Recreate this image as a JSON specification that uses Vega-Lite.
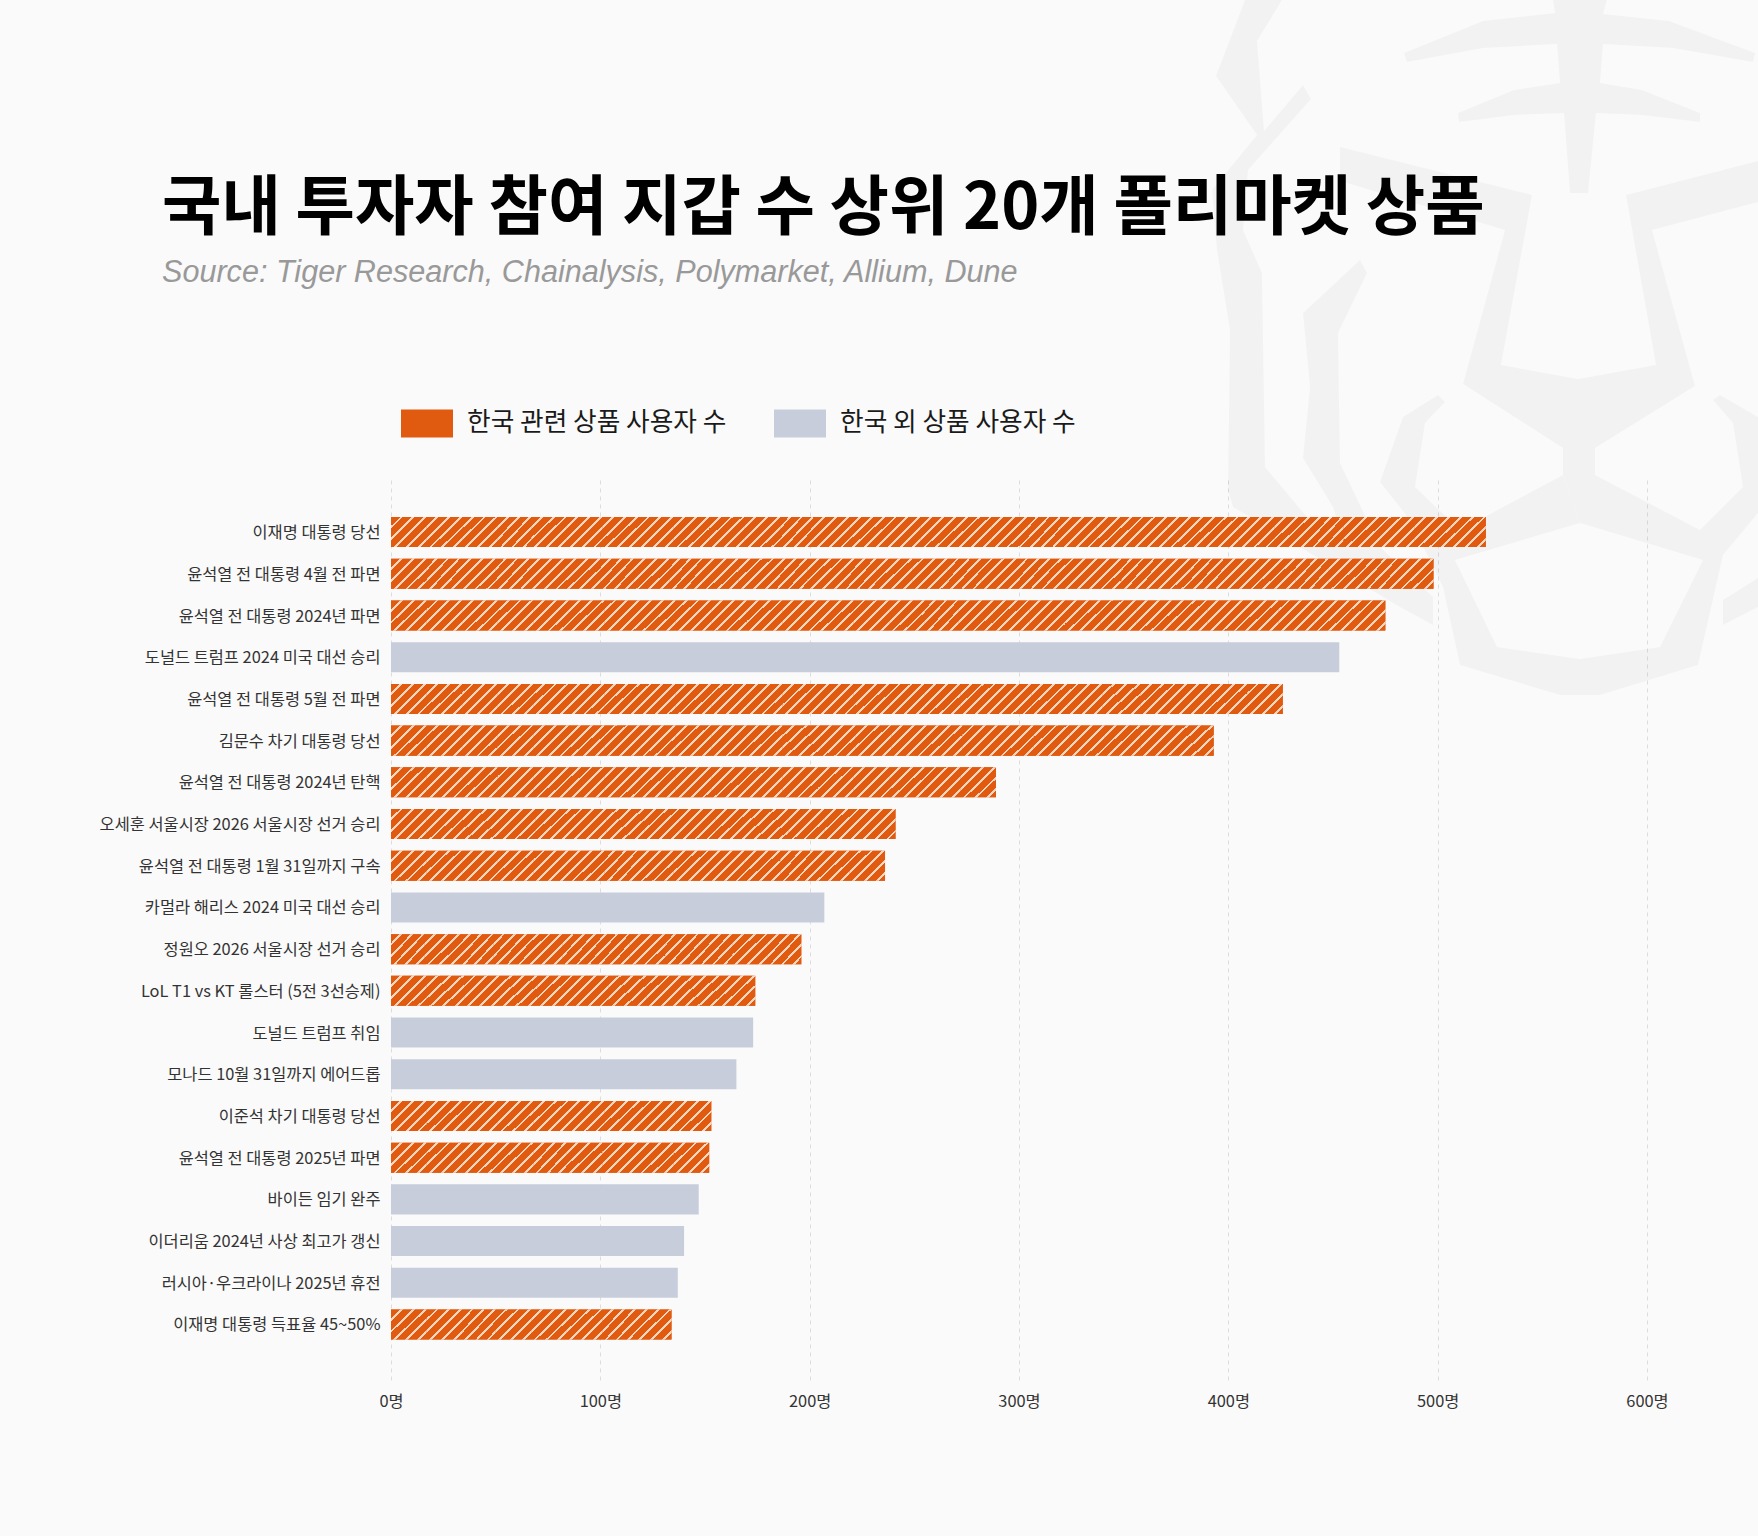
{
  "$schema": "https://vega.github.io/schema/vega-lite/v6.json",
  "background": "#fafafa",
  "autosize": "none",
  "width": 1256,
  "height": 900,
  "padding": {"left": 391, "top": 480, "right": 111, "bottom": 156},
  "config": {"view": {"stroke": null}},
  "title": {
    "text": "국내 투자자 참여 지갑 수 상위 20개 폴리마켓 상품",
    "subtitle": "Source: Tiger Research, Chainalysis, Polymarket, Allium, Dune",
    "anchor": "start",
    "frame": "group",
    "dx": -229,
    "offset": -290,
    "font": "Noto Sans CJK KR",
    "fontSize": 64.6,
    "fontWeight": 700,
    "color": "#000000",
    "subtitleFont": "Liberation Sans",
    "subtitleFontSize": 30.6,
    "subtitleFontStyle": "italic",
    "subtitleColor": "#999999",
    "subtitlePadding": 16
  },
  "datasets": {
    "bars": [
      {"r": 1, "name": "이재명 대통령 당선", "users": 523, "group": "한국 관련 상품 사용자 수"},
      {"r": 2, "name": "윤석열 전 대통령 4월 전 파면", "users": 498, "group": "한국 관련 상품 사용자 수"},
      {"r": 3, "name": "윤석열 전 대통령 2024년 파면", "users": 475, "group": "한국 관련 상품 사용자 수"},
      {"r": 4, "name": "도널드 트럼프 2024 미국 대선 승리", "users": 453, "group": "한국 외 상품 사용자 수"},
      {"r": 5, "name": "윤석열 전 대통령 5월 전 파면", "users": 426, "group": "한국 관련 상품 사용자 수"},
      {"r": 6, "name": "김문수 차기 대통령 당선", "users": 393, "group": "한국 관련 상품 사용자 수"},
      {"r": 7, "name": "윤석열 전 대통령 2024년 탄핵", "users": 289, "group": "한국 관련 상품 사용자 수"},
      {"r": 8, "name": "오세훈 서울시장 2026 서울시장 선거 승리", "users": 241, "group": "한국 관련 상품 사용자 수"},
      {"r": 9, "name": "윤석열 전 대통령 1월 31일까지 구속", "users": 236, "group": "한국 관련 상품 사용자 수"},
      {"r": 10, "name": "카멀라 해리스 2024 미국 대선 승리", "users": 207, "group": "한국 외 상품 사용자 수"},
      {"r": 11, "name": "정원오 2026 서울시장 선거 승리", "users": 196, "group": "한국 관련 상품 사용자 수"},
      {"r": 12, "name": "LoL T1 vs KT 롤스터 (5전 3선승제)", "users": 174, "group": "한국 관련 상품 사용자 수"},
      {"r": 13, "name": "도널드 트럼프 취임", "users": 173, "group": "한국 외 상품 사용자 수"},
      {"r": 14, "name": "모나드 10월 31일까지 에어드롭", "users": 165, "group": "한국 외 상품 사용자 수"},
      {"r": 15, "name": "이준석 차기 대통령 당선", "users": 153, "group": "한국 관련 상품 사용자 수"},
      {"r": 16, "name": "윤석열 전 대통령 2025년 파면", "users": 152, "group": "한국 관련 상품 사용자 수"},
      {"r": 17, "name": "바이든 임기 완주", "users": 147, "group": "한국 외 상품 사용자 수"},
      {"r": 18, "name": "이더리움 2024년 사상 최고가 갱신", "users": 140, "group": "한국 외 상품 사용자 수"},
      {"r": 19, "name": "러시아·우크라이나 2025년 휴전", "users": 137, "group": "한국 외 상품 사용자 수"},
      {"r": 20, "name": "이재명 대통령 득표율 45~50%", "users": 134, "group": "한국 관련 상품 사용자 수"}
    ],
    "hatch": [
      {"r":1,"a":0,"b":17},{"r":1,"a":17,"b":34},{"r":1,"a":34,"b":51},{"r":1,"a":51,"b":67},{"r":1,"a":67,"b":84},{"r":1,"a":84,"b":101},{"r":1,"a":101,"b":118},{"r":1,"a":118,"b":135},{"r":1,"a":135,"b":152},{"r":1,"a":152,"b":169},{"r":1,"a":169,"b":186},{"r":1,"a":186,"b":202},{"r":1,"a":202,"b":219},{"r":1,"a":219,"b":236},{"r":1,"a":236,"b":253},{"r":1,"a":253,"b":270},{"r":1,"a":270,"b":287},{"r":1,"a":287,"b":304},{"r":1,"a":304,"b":320},{"r":1,"a":320,"b":337},{"r":1,"a":337,"b":354},{"r":1,"a":354,"b":371},{"r":1,"a":371,"b":388},{"r":1,"a":388,"b":405},{"r":1,"a":405,"b":422},{"r":1,"a":422,"b":439},{"r":1,"a":439,"b":455},{"r":1,"a":455,"b":472},{"r":1,"a":472,"b":489},{"r":1,"a":489,"b":506},{"r":1,"a":506,"b":523},
      {"r":2,"a":0,"b":17},{"r":2,"a":17,"b":33},{"r":2,"a":33,"b":50},{"r":2,"a":50,"b":66},{"r":2,"a":66,"b":83},{"r":2,"a":83,"b":100},{"r":2,"a":100,"b":116},{"r":2,"a":116,"b":133},{"r":2,"a":133,"b":149},{"r":2,"a":149,"b":166},{"r":2,"a":166,"b":183},{"r":2,"a":183,"b":199},{"r":2,"a":199,"b":216},{"r":2,"a":216,"b":232},{"r":2,"a":232,"b":249},{"r":2,"a":249,"b":266},{"r":2,"a":266,"b":282},{"r":2,"a":282,"b":299},{"r":2,"a":299,"b":315},{"r":2,"a":315,"b":332},{"r":2,"a":332,"b":349},{"r":2,"a":349,"b":365},{"r":2,"a":365,"b":382},{"r":2,"a":382,"b":398},{"r":2,"a":398,"b":415},{"r":2,"a":415,"b":432},{"r":2,"a":432,"b":448},{"r":2,"a":448,"b":465},{"r":2,"a":465,"b":481},{"r":2,"a":481,"b":498},
      {"r":3,"a":0,"b":17},{"r":3,"a":17,"b":34},{"r":3,"a":34,"b":51},{"r":3,"a":51,"b":68},{"r":3,"a":68,"b":85},{"r":3,"a":85,"b":102},{"r":3,"a":102,"b":119},{"r":3,"a":119,"b":136},{"r":3,"a":136,"b":153},{"r":3,"a":153,"b":170},{"r":3,"a":170,"b":187},{"r":3,"a":187,"b":204},{"r":3,"a":204,"b":221},{"r":3,"a":221,"b":238},{"r":3,"a":238,"b":255},{"r":3,"a":255,"b":271},{"r":3,"a":271,"b":288},{"r":3,"a":288,"b":305},{"r":3,"a":305,"b":322},{"r":3,"a":322,"b":339},{"r":3,"a":339,"b":356},{"r":3,"a":356,"b":373},{"r":3,"a":373,"b":390},{"r":3,"a":390,"b":407},{"r":3,"a":407,"b":424},{"r":3,"a":424,"b":441},{"r":3,"a":441,"b":458},{"r":3,"a":458,"b":475},
      {"r":5,"a":0,"b":17},{"r":5,"a":17,"b":34},{"r":5,"a":34,"b":51},{"r":5,"a":51,"b":68},{"r":5,"a":68,"b":85},{"r":5,"a":85,"b":102},{"r":5,"a":102,"b":119},{"r":5,"a":119,"b":136},{"r":5,"a":136,"b":153},{"r":5,"a":153,"b":170},{"r":5,"a":170,"b":187},{"r":5,"a":187,"b":204},{"r":5,"a":204,"b":221},{"r":5,"a":221,"b":238},{"r":5,"a":238,"b":255},{"r":5,"a":255,"b":272},{"r":5,"a":272,"b":289},{"r":5,"a":289,"b":306},{"r":5,"a":306,"b":323},{"r":5,"a":323,"b":340},{"r":5,"a":340,"b":358},{"r":5,"a":358,"b":375},{"r":5,"a":375,"b":392},{"r":5,"a":392,"b":409},{"r":5,"a":409,"b":426},
      {"r":6,"a":0,"b":17},{"r":6,"a":17,"b":34},{"r":6,"a":34,"b":51},{"r":6,"a":51,"b":68},{"r":6,"a":68,"b":85},{"r":6,"a":85,"b":102},{"r":6,"a":102,"b":119},{"r":6,"a":119,"b":136},{"r":6,"a":136,"b":153},{"r":6,"a":153,"b":170},{"r":6,"a":170,"b":187},{"r":6,"a":187,"b":205},{"r":6,"a":205,"b":222},{"r":6,"a":222,"b":239},{"r":6,"a":239,"b":256},{"r":6,"a":256,"b":273},{"r":6,"a":273,"b":290},{"r":6,"a":290,"b":307},{"r":6,"a":307,"b":324},{"r":6,"a":324,"b":341},{"r":6,"a":341,"b":358},{"r":6,"a":358,"b":375},{"r":6,"a":375,"b":393},
      {"r":7,"a":0,"b":17},{"r":7,"a":17,"b":34},{"r":7,"a":34,"b":51},{"r":7,"a":51,"b":68},{"r":7,"a":68,"b":85},{"r":7,"a":85,"b":102},{"r":7,"a":102,"b":119},{"r":7,"a":119,"b":136},{"r":7,"a":136,"b":153},{"r":7,"a":153,"b":170},{"r":7,"a":170,"b":187},{"r":7,"a":187,"b":204},{"r":7,"a":204,"b":221},{"r":7,"a":221,"b":238},{"r":7,"a":238,"b":255},{"r":7,"a":255,"b":272},{"r":7,"a":272,"b":289},
      {"r":8,"a":0,"b":17},{"r":8,"a":17,"b":34},{"r":8,"a":34,"b":52},{"r":8,"a":52,"b":69},{"r":8,"a":69,"b":86},{"r":8,"a":86,"b":103},{"r":8,"a":103,"b":121},{"r":8,"a":121,"b":138},{"r":8,"a":138,"b":155},{"r":8,"a":155,"b":172},{"r":8,"a":172,"b":190},{"r":8,"a":190,"b":207},{"r":8,"a":207,"b":224},{"r":8,"a":224,"b":241},
      {"r":9,"a":0,"b":17},{"r":9,"a":17,"b":34},{"r":9,"a":34,"b":51},{"r":9,"a":51,"b":68},{"r":9,"a":68,"b":85},{"r":9,"a":85,"b":102},{"r":9,"a":102,"b":118},{"r":9,"a":118,"b":135},{"r":9,"a":135,"b":152},{"r":9,"a":152,"b":169},{"r":9,"a":169,"b":186},{"r":9,"a":186,"b":202},{"r":9,"a":202,"b":219},{"r":9,"a":219,"b":236},
      {"r":11,"a":0,"b":16},{"r":11,"a":16,"b":33},{"r":11,"a":33,"b":49},{"r":11,"a":49,"b":65},{"r":11,"a":65,"b":82},{"r":11,"a":82,"b":98},{"r":11,"a":98,"b":114},{"r":11,"a":114,"b":131},{"r":11,"a":131,"b":147},{"r":11,"a":147,"b":163},{"r":11,"a":163,"b":180},{"r":11,"a":180,"b":196},
      {"r":12,"a":0,"b":17},{"r":12,"a":17,"b":35},{"r":12,"a":35,"b":52},{"r":12,"a":52,"b":70},{"r":12,"a":70,"b":87},{"r":12,"a":87,"b":104},{"r":12,"a":104,"b":122},{"r":12,"a":122,"b":139},{"r":12,"a":139,"b":157},{"r":12,"a":157,"b":174},
      {"r":15,"a":0,"b":17},{"r":15,"a":17,"b":34},{"r":15,"a":34,"b":51},{"r":15,"a":51,"b":68},{"r":15,"a":68,"b":85},{"r":15,"a":85,"b":102},{"r":15,"a":102,"b":119},{"r":15,"a":119,"b":136},{"r":15,"a":136,"b":153},
      {"r":16,"a":0,"b":17},{"r":16,"a":17,"b":34},{"r":16,"a":34,"b":51},{"r":16,"a":51,"b":68},{"r":16,"a":68,"b":84},{"r":16,"a":84,"b":101},{"r":16,"a":101,"b":118},{"r":16,"a":118,"b":135},{"r":16,"a":135,"b":152},
      {"r":20,"a":0,"b":17},{"r":20,"a":17,"b":34},{"r":20,"a":34,"b":50},{"r":20,"a":50,"b":67},{"r":20,"a":67,"b":84},{"r":20,"a":84,"b":101},{"r":20,"a":101,"b":117},{"r":20,"a":117,"b":134}
    ],
    "watermark": [
      {"s":"crown","i":1,"u":1553,"v":0},{"s":"crown","i":2,"u":1607,"v":0},{"s":"crown","i":3,"u":1603,"v":14},{"s":"crown","i":4,"u":1669,"v":21},{"s":"crown","i":5,"u":1755,"v":53},{"s":"crown","i":6,"u":1753,"v":62},{"s":"crown","i":7,"u":1673,"v":48},{"s":"crown","i":8,"u":1603,"v":44},{"s":"crown","i":9,"u":1600,"v":83},{"s":"crown","i":10,"u":1642,"v":90},{"s":"crown","i":11,"u":1700,"v":113},{"s":"crown","i":12,"u":1700,"v":122},{"s":"crown","i":13,"u":1642,"v":115},{"s":"crown","i":14,"u":1596,"v":113},{"s":"crown","i":15,"u":1588,"v":193},{"s":"crown","i":16,"u":1570,"v":193},{"s":"crown","i":17,"u":1564,"v":113},{"s":"crown","i":18,"u":1514,"v":115},{"s":"crown","i":19,"u":1459,"v":122},{"s":"crown","i":20,"u":1458,"v":113},{"s":"crown","i":21,"u":1514,"v":90},{"s":"crown","i":22,"u":1560,"v":83},{"s":"crown","i":23,"u":1557,"v":44},{"s":"crown","i":24,"u":1483,"v":48},{"s":"crown","i":25,"u":1407,"v":62},{"s":"crown","i":26,"u":1404,"v":53},{"s":"crown","i":27,"u":1483,"v":21},{"s":"crown","i":28,"u":1555,"v":13},
      {"s":"left","i":1,"u":1245,"v":0},{"s":"left","i":2,"u":1282,"v":0},{"s":"left","i":3,"u":1257,"v":41},{"s":"left","i":4,"u":1264,"v":131},{"s":"left","i":5,"u":1303,"v":85},{"s":"left","i":6,"u":1311,"v":99},{"s":"left","i":7,"u":1248,"v":170},{"s":"left","i":8,"u":1243,"v":230},{"s":"left","i":9,"u":1262,"v":273},{"s":"left","i":10,"u":1265,"v":467},{"s":"left","i":11,"u":1307,"v":517},{"s":"left","i":12,"u":1345,"v":545},{"s":"left","i":13,"u":1333,"v":507},{"s":"left","i":14,"u":1303,"v":458},{"s":"left","i":15,"u":1310,"v":387},{"s":"left","i":16,"u":1303,"v":313},{"s":"left","i":17,"u":1360,"v":260},{"s":"left","i":18,"u":1367,"v":273},{"s":"left","i":19,"u":1338,"v":333},{"s":"left","i":20,"u":1340,"v":463},{"s":"left","i":21,"u":1380,"v":547},{"s":"left","i":22,"u":1433,"v":597},{"s":"left","i":23,"u":1433,"v":625},{"s":"left","i":24,"u":1400,"v":607},{"s":"left","i":25,"u":1233,"v":507},{"s":"left","i":26,"u":1228,"v":490},{"s":"left","i":27,"u":1230,"v":330},{"s":"left","i":28,"u":1217,"v":250},{"s":"left","i":29,"u":1212,"v":190},{"s":"left","i":30,"u":1257,"v":135},{"s":"left","i":31,"u":1216,"v":76},
      {"s":"face","i":1,"u":1340,"v":147},{"s":"face","i":2,"u":1532,"v":195},{"s":"face","i":3,"u":1501,"v":365},{"s":"face","i":4,"u":1578,"v":379},{"s":"face","i":5,"u":1656,"v":365},{"s":"face","i":6,"u":1626,"v":195},{"s":"face","i":7,"u":1758,"v":161},{"s":"face","i":8,"u":1758,"v":202},{"s":"face","i":9,"u":1652,"v":230},{"s":"face","i":10,"u":1695,"v":386},{"s":"face","i":11,"u":1595,"v":448},{"s":"face","i":12,"u":1595,"v":475},{"s":"face","i":13,"u":1700,"v":530},{"s":"face","i":14,"u":1743,"v":487},{"s":"face","i":15,"u":1733,"v":423},{"s":"face","i":16,"u":1713,"v":400},{"s":"face","i":17,"u":1720,"v":395},{"s":"face","i":18,"u":1758,"v":417},{"s":"face","i":19,"u":1758,"v":513},{"s":"face","i":20,"u":1723,"v":555},{"s":"face","i":21,"u":1698,"v":665},{"s":"face","i":22,"u":1600,"v":695},{"s":"face","i":23,"u":1580,"v":695},{"s":"face","i":24,"u":1580,"v":659},{"s":"face","i":25,"u":1660,"v":647},{"s":"face","i":26,"u":1703,"v":560},{"s":"face","i":27,"u":1580,"v":523},{"s":"face","i":28,"u":1563,"v":475},{"s":"face","i":29,"u":1563,"v":448},{"s":"face","i":30,"u":1463,"v":384},{"s":"face","i":31,"u":1505,"v":230},{"s":"face","i":32,"u":1340,"v":181},
      {"s":"chin","i":1,"u":1563,"v":475},{"s":"chin","i":2,"u":1580,"v":523},{"s":"chin","i":3,"u":1455,"v":560},{"s":"chin","i":4,"u":1497,"v":647},{"s":"chin","i":5,"u":1580,"v":659},{"s":"chin","i":6,"u":1580,"v":695},{"s":"chin","i":7,"u":1560,"v":695},{"s":"chin","i":8,"u":1460,"v":665},{"s":"chin","i":9,"u":1443,"v":587},{"s":"chin","i":10,"u":1410,"v":520},{"s":"chin","i":11,"u":1380,"v":482},{"s":"chin","i":12,"u":1403,"v":417},{"s":"chin","i":13,"u":1438,"v":395},{"s":"chin","i":14,"u":1445,"v":402},{"s":"chin","i":15,"u":1425,"v":423},{"s":"chin","i":16,"u":1415,"v":487},{"s":"chin","i":17,"u":1460,"v":530},
      {"s":"tab","i":1,"u":1723,"v":600},{"s":"tab","i":2,"u":1758,"v":578},{"s":"tab","i":3,"u":1758,"v":607},{"s":"tab","i":4,"u":1723,"v":625}
    ]
  },
  "layer": [
    {
      "data": {"name": "watermark"},
      "mark": {"type": "line", "fill": "#000000", "fillOpacity": 0.032, "stroke": null, "strokeWidth": 0},
      "encoding": {
        "x": {"field": "u", "type": "quantitative", "axis": null, "scale": {"domain": [391, 1647], "nice": false, "zero": false}},
        "y": {"field": "v", "type": "quantitative", "axis": null, "scale": {"domain": [1380, 480], "nice": false, "zero": false}},
        "detail": {"field": "s"},
        "order": {"field": "i"}
      }
    },
    {
      "encoding": {
        "y": {
          "field": "name",
          "type": "nominal",
          "title": null,
          "scale": {
            "domain": ["이재명 대통령 당선", "윤석열 전 대통령 4월 전 파면", "윤석열 전 대통령 2024년 파면", "도널드 트럼프 2024 미국 대선 승리", "윤석열 전 대통령 5월 전 파면", "김문수 차기 대통령 당선", "윤석열 전 대통령 2024년 탄핵", "오세훈 서울시장 2026 서울시장 선거 승리", "윤석열 전 대통령 1월 31일까지 구속", "카멀라 해리스 2024 미국 대선 승리", "정원오 2026 서울시장 선거 승리", "LoL T1 vs KT 롤스터 (5전 3선승제)", "도널드 트럼프 취임", "모나드 10월 31일까지 에어드롭", "이준석 차기 대통령 당선", "윤석열 전 대통령 2025년 파면", "바이든 임기 완주", "이더리움 2024년 사상 최고가 갱신", "러시아·우크라이나 2025년 휴전", "이재명 대통령 득표율 45~50%"],
            "paddingInner": 0.28,
            "paddingOuter": 0.93,
            "align": 0.478
          },
          "axis": {
            "domain": false,
            "ticks": false,
            "grid": false,
            "labelFont": "Noto Sans CJK KR",
            "labelFontSize": 16.4,
            "labelColor": "#333333",
            "labelPadding": 11,
            "labelOffset": 1,
            "labelLimit": 400
          }
        }
      },
      "layer": [
        {
          "data": {"name": "bars"},
          "mark": {"type": "bar"},
          "encoding": {
            "x": {
              "field": "users",
              "type": "quantitative",
              "title": null,
              "scale": {"domain": [0, 600], "nice": false},
              "axis": {
                "values": [0, 100, 200, 300, 400, 500, 600],
                "labelExpr": "datum.value + '명'",
                "labelFlush": false,
                "domain": false,
                "ticks": false,
                "grid": true,
                "gridColor": "#dddddd",
                "gridDash": [4, 4],
                "gridWidth": 1,
                "labelFont": "Noto Sans CJK KR",
                "labelFontSize": 16.4,
                "labelColor": "#333333",
                "labelPadding": 13
              }
            },
            "color": {
              "field": "group",
              "type": "nominal",
              "scale": {"domain": ["한국 관련 상품 사용자 수", "한국 외 상품 사용자 수"], "range": ["#e05a10", "#c7cddb"]},
              "legend": {
                "title": null,
                "orient": "none",
                "direction": "horizontal",
                "columns": 2,
                "legendX": 10,
                "legendY": -83,
                "symbolType": "M-1,-0.54H1V0.54H-1Z",
                "symbolSize": 2704,
                "symbolStrokeWidth": 0,
                "labelFont": "Noto Sans CJK KR",
                "labelFontSize": 25.7,
                "labelColor": "#1a1a1a",
                "labelOffset": 14,
                "labelLimit": 400,
                "columnPadding": 47
              }
            }
          }
        },
        {
          "data": {"name": "hatch"},
          "transform": [
            {"lookup": "r", "from": {"data": {"name": "bars"}, "key": "r", "fields": ["name"]}}
          ],
          "mark": {
            "type": "bar",
            "fill": {
              "gradient": "linear",
              "x1": 0,
              "y1": 0,
              "x2": 1.0718,
              "y2": 0.916,
              "stops": [
                {"offset": 0, "color": "#e05a10"},
                {"offset": 0.1367, "color": "#e05a10"},
                {"offset": 0.1367, "color": "#f9d5bd"},
                {"offset": 0.1799, "color": "#f9d5bd"},
                {"offset": 0.1799, "color": "#e05a10"},
                {"offset": 0.3166, "color": "#e05a10"},
                {"offset": 0.3166, "color": "#f9d5bd"},
                {"offset": 0.3597, "color": "#f9d5bd"},
                {"offset": 0.3597, "color": "#e05a10"},
                {"offset": 0.4964, "color": "#e05a10"},
                {"offset": 0.4964, "color": "#f9d5bd"},
                {"offset": 0.5396, "color": "#f9d5bd"},
                {"offset": 0.5396, "color": "#e05a10"},
                {"offset": 0.6763, "color": "#e05a10"},
                {"offset": 0.6763, "color": "#f9d5bd"},
                {"offset": 0.7194, "color": "#f9d5bd"},
                {"offset": 0.7194, "color": "#e05a10"},
                {"offset": 0.8562, "color": "#e05a10"},
                {"offset": 0.8562, "color": "#f9d5bd"},
                {"offset": 0.8993, "color": "#f9d5bd"},
                {"offset": 0.8993, "color": "#e05a10"},
                {"offset": 1, "color": "#e05a10"}
              ]
            }
          },
          "encoding": {
            "x": {"field": "a", "type": "quantitative"},
            "x2": {"field": "b"}
          }
        }
      ]
    }
  ],
  "resolve": {"scale": {"x": "independent", "y": "independent"}, "axis": {"x": "independent", "y": "independent"}}
}
